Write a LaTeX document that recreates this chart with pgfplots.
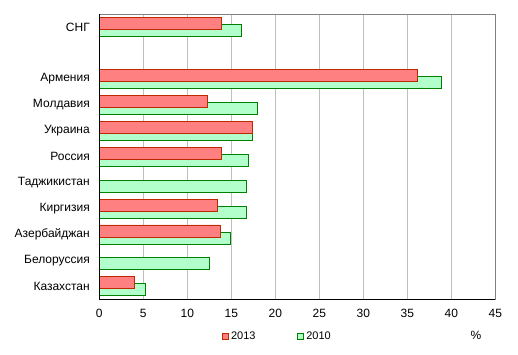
\documentclass[border=0pt]{standalone}
\usepackage{fontspec}
\setmainfont{Liberation Sans}
\usepackage{pgfplots}
\pgfplotsset{compat=1.18}
\definecolor{redfill}{HTML}{FF8080}
\definecolor{rededge}{HTML}{C02800}
\definecolor{greenfill}{HTML}{B3FFCC}
\definecolor{greenedge}{HTML}{008000}
\begin{document}
\begin{tikzpicture}[x=1pt,y=1pt]
\useasboundingbox (-99.3,-54.7) rectangle (418.7,299.3);
\begin{axis}[
  at={(0,0)}, anchor=south west,
  scale only axis, width=396pt, height=285.3pt,
  clip=false,
  xmin=0, xmax=45, ymin=-0.5, ymax=10.5,
  xtick={0,5,...,45},
  ytick={0,1,2,3,4,5,6,7,8,10},
  yticklabels={Казахстан,Белоруссия,Азербайджан,Киргизия,Таджикистан,Россия,Украина,Молдавия,Армения,СНГ},
  /pgf/number format/assume math mode=true,
  major tick length=0pt,
  xmajorgrids, major grid style={draw=black!25, line width=0.8pt},
  axis line style={draw=black!50, line width=0.8pt},
  tick label style={font=\fontsize{12}{14}\selectfont},
  yticklabel style={xshift=-6pt},
  xticklabel style={yshift=-6pt},
  xbar, bar width=12pt,
  legend columns=2,
  legend style={at={(rel axis cs:0.45,-0.13)}, anchor=center, draw=none, fill=none,
    font=\fontsize{11}{12}\selectfont, /tikz/every even column/.append style={column sep=40pt}},
  legend image code/.code={\draw[#1] (0pt,-3pt) rectangle (6pt,3pt);},
]
\addlegendimage{fill=redfill, draw=rededge, line width=0.8pt}
\addlegendentry{2013}
\addlegendimage{fill=greenfill, draw=greenedge, line width=0.8pt}
\addlegendentry{2010}
\addplot[forget plot, fill=greenfill, draw=greenedge, line width=0.9pt, bar shift=-3.5pt] coordinates {
  (16.1,10) (38.85,8) (17.95,7) (17.4,6) (16.95,5) (16.7,4) (16.7,3) (14.9,2) (12.55,1) (5.25,0)};
\addplot[forget plot, fill=redfill, draw=rededge, line width=0.9pt, bar shift=3.5pt] coordinates {
  (13.85,10) (36.15,8) (12.3,7) (17.4,6) (13.85,5) (13.45,3) (13.75,2) (3.95,0)};
\draw[black, line width=0.9pt] (rel axis cs:0,0) -- (rel axis cs:0,1);
\draw[black, line width=0.9pt] (rel axis cs:0,0) -- (rel axis cs:1,0);
\node[font=\fontsize{12}{14}\selectfont] at (rel axis cs:0.951,-0.128) {\%};
\end{axis}
\end{tikzpicture}
\end{document}
